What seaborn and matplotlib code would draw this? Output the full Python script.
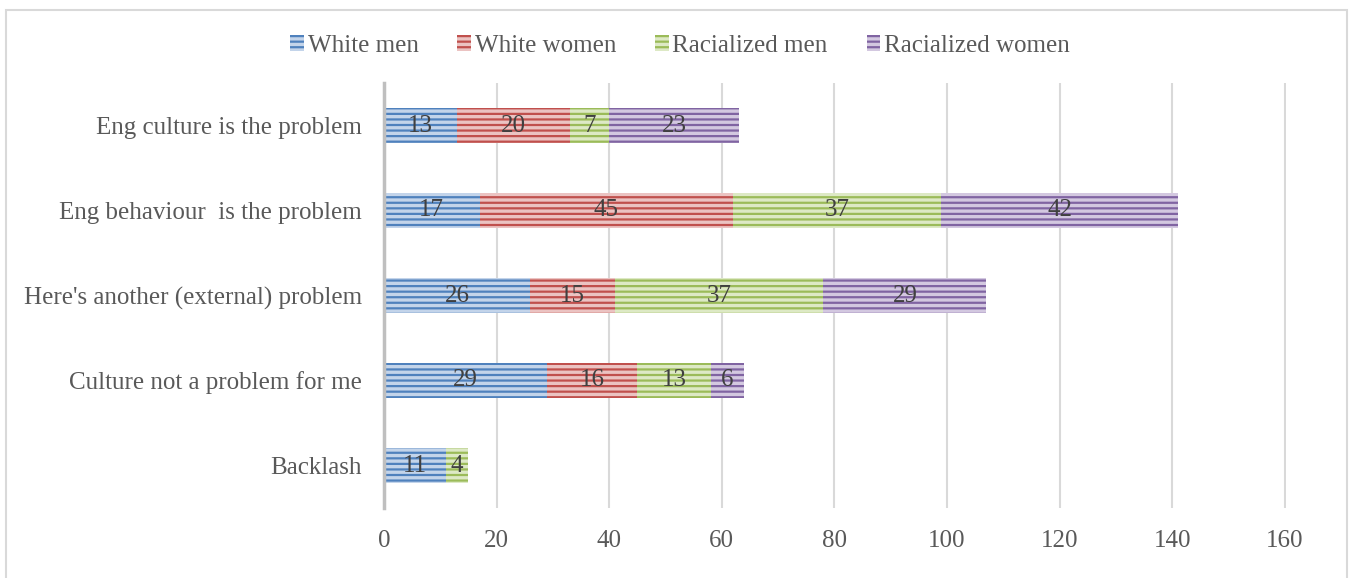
import matplotlib
matplotlib.use("Agg")
import matplotlib.pyplot as plt
from matplotlib.patches import Patch, Rectangle
import seaborn as sns
import pandas as pd
import numpy as np

categories = ["Eng culture is the problem", "Eng behaviour  is the problem",
              "Here's another (external) problem", "Culture not a problem for me", "Backlash"]
series_names = ["White men", "White women", "Racialized men", "Racialized women"]
white_men = [13, 17, 26, 29, 11]
white_women = [20, 45, 15, 16, 0]
racialized_men = [7, 37, 37, 13, 4]
racialized_women = [23, 42, 29, 6, 0]
x_ticks = [0, 20, 40, 60, 80, 100, 120, 140, 160]

series_values = [white_men, white_women, racialized_men, racialized_women]
light_colors = ["#C3D4EA", "#EBC3C2", "#DDE9C5", "#D3C8E0"]
dark_colors = ["#4F81BD", "#C0504D", "#9BBB59", "#8064A2"]

sns.set_theme(style="white")
plt.rcParams["font.family"] = ["Liberation Serif", "DejaVu Serif"]
plt.rcParams["hatch.linewidth"] = 1.6

W, H = 1349, 578
fig = plt.figure(figsize=(W / 100, H / 100), dpi=100)
ax = fig.add_axes([384 / W, 1 - 508 / H, (1286 - 384) / W, (508 - 83) / H])

# cumulative sums for stacking
vals = np.array(series_values, dtype=float)
cum = np.cumsum(vals, axis=0)
starts = cum - vals

# draw from the outermost (largest cumulative) to innermost
for k in range(len(series_names) - 1, -1, -1):
    df = pd.DataFrame({"category": categories, "value": cum[k]})
    sns.barplot(data=df, y="category", x="value", orient="h", ax=ax,
                color=light_colors[k], edgecolor=dark_colors[k], hatch="---",
                linewidth=0, width=0.42, saturation=1, order=categories)

for k in range(len(series_names)):
    for i, cat in enumerate(categories):
        v = vals[k, i]
        if v > 0:
            ax.text(starts[k, i] + v / 2, i, f"{int(v)}", ha="center", va="center",
                    fontsize=18, color="#404040")

ax.set_xlim(0, 160.2)
ax.set_ylim(4.5, -0.5)
ax.set_xticks(x_ticks)
ax.set_xticklabels([str(t) for t in x_ticks])
ax.set_xlabel("")
ax.set_ylabel("")
ax.grid(axis="x", color="#D9D9D9", linewidth=1.5)
ax.grid(axis="y", visible=False)
ax.set_axisbelow(True)
for s in ["top", "right", "bottom"]:
    ax.spines[s].set_visible(False)
ax.spines["left"].set_color("#BFBFBF")
ax.spines["left"].set_linewidth(2.5)
ax.spines["left"].set_zorder(5)
ax.tick_params(axis="x", length=0, pad=16, labelsize=18, labelcolor="#595959")
ax.tick_params(axis="y", length=0, pad=16, labelsize=18, labelcolor="#595959")

handles = [Patch(facecolor=light_colors[k], edgecolor=dark_colors[k], hatch="---",
                 linewidth=0, label=series_names[k]) for k in range(len(series_names))]
leg = fig.legend(handles=handles, loc="center", bbox_to_anchor=(680 / W, 1 - 46 / H),
                 ncol=4, frameon=False, fontsize=18, handlelength=0.55, handleheight=0.6,
                 handletextpad=0.15, columnspacing=1.55, borderaxespad=0)
for t in leg.get_texts():
    t.set_color("#595959")

fig.patches.append(Rectangle((6 / W, -0.01), (1347 - 6) / W, 1 - 10 / H + 0.01,
                             transform=fig.transFigure, fill=False,
                             edgecolor="#D9D9D9", linewidth=1.5))

fig.savefig("out.png", dpi=100)
